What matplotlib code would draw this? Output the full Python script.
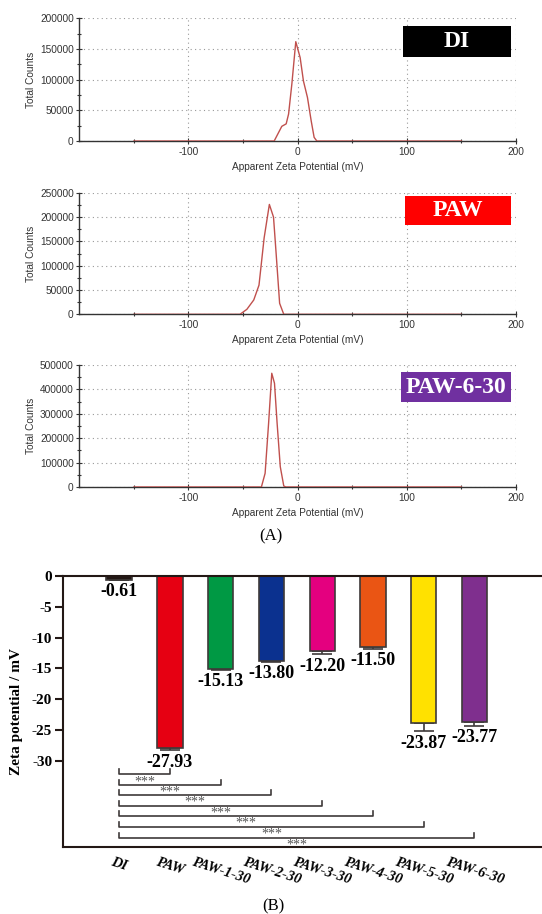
import numpy as np
import matplotlib
matplotlib.use("Agg")
import matplotlib.pyplot as plt
from matplotlib.patches import Rectangle
from matplotlib.ticker import MultipleLocator, FixedLocator

plt.rcParams['axes.unicode_minus'] = False

# --- (A) zeta potential distributions ---
di_x = [-150, -21.5, -14.5, -10.5, -8.3, -5.3, -1.7, 2.3, 5.3, 9.0, 12.4, 15.1, 17.6, 150]
di_y = [0, 0, 24000, 28000, 44000, 93000, 162000, 136000, 98000, 71000, 33000, 6000, 0, 0]

paw_x = [-150, -52.8, -46.5, -40.2, -35.4, -30.7, -25.9, -22.1, -19.7, -16.5, -12.7, 150]
paw_y = [0, 0, 10300, 29500, 60000, 157000, 226000, 200000, 125000, 22600, 0, 0]

p630_x = [-150, -33.2, -29.8, -26.6, -23.7, -21.2, -18.8, -15.9, -12.7, -10.8, 150]
p630_y = [0, 0, 56000, 261000, 466000, 425000, 261000, 83000, 4000, 0, 0]

dist_names = ["DI", "PAW", "PAW-6-30"]
dist_colors = ["#000000", "#ff0000", "#7030a0"]
dist_ymax = [200000, 250000, 500000]
dist_ystep = [50000, 50000, 100000]

# --- (B) mean zeta potential ---
groups = ["DI", "PAW", "PAW-1-30", "PAW-2-30", "PAW-3-30", "PAW-4-30", "PAW-5-30", "PAW-6-30"]
zeta = [-0.61, -27.93, -15.13, -13.80, -12.20, -11.50, -23.87, -23.77]
zeta_err = [0.0, 0.37, 0.1, 0.1, 0.53, 0.3, 1.33, 0.57]
bar_colors = ["#231815", "#e60012", "#009944", "#0b318f", "#e4007f", "#ea5514", "#ffe100", "#7f2f8e"]
bracket_levels = [-32.2, -33.9, -35.6, -37.3, -39.0, -40.8, -42.6]

fig = plt.figure(figsize=(5.42, 9.14), dpi=100)

axes_pos = [[0.1463, 0.8457, 0.8057, 0.1342],
            [0.1463, 0.6561, 0.8057, 0.1330],
            [0.1463, 0.4672, 0.8057, 0.1335]]
box_pos = [(0.742, 0.687, 0.246, 0.250),
           (0.745, 0.734, 0.243, 0.241),
           (0.737, 0.694, 0.251, 0.246)]
curves = [(di_x, di_y), (paw_x, paw_y), (p630_x, p630_y)]

sans = ["Liberation Sans", "DejaVu Sans"]
serif = ["Liberation Serif", "DejaVu Serif"]

for k in range(3):
    ax = fig.add_axes(axes_pos[k])
    cx, cy = curves[k]
    ax.plot(cx, cy, color="#c0504d", lw=1.0, zorder=3)
    ax.set_xlim(-200, 200)
    ax.set_ylim(0, dist_ymax[k])
    ax.xaxis.set_major_locator(FixedLocator([-100, 0, 100, 200]))
    ax.xaxis.set_minor_locator(FixedLocator([-150, -50, 50, 150]))
    ax.yaxis.set_major_locator(MultipleLocator(dist_ystep[k]))
    ax.yaxis.set_minor_locator(MultipleLocator(dist_ystep[k] / 2))
    for s in ["top", "right"]:
        ax.spines[s].set_visible(False)
    for s in ["left", "bottom"]:
        ax.spines[s].set_color("#333333")
        ax.spines[s].set_linewidth(1.0)
    ax.tick_params(which="both", direction="inout", color="#333333", width=0.8)
    ax.tick_params(which="major", length=4, labelsize=7.3, labelcolor="#333333", pad=2)
    ax.tick_params(which="minor", length=3)
    ax.grid(True, which="major", color="#999999", linestyle=(0, (1, 3)), lw=0.8)
    for lab in ax.get_xticklabels() + ax.get_yticklabels():
        lab.set_family(sans)
    ax.set_ylabel("Total Counts", fontsize=7.3, family=sans, color="#333333", labelpad=3)
    ax.set_xlabel("Apparent Zeta Potential (mV)", fontsize=7.3, family=sans,
                  color="#333333", labelpad=4)
    bx, by, bw, bh = box_pos[k]
    ax.add_patch(Rectangle((bx, by), bw, bh, transform=ax.transAxes,
                           facecolor=dist_colors[k], edgecolor="none", zorder=5, clip_on=False))
    ax.text(bx + bw / 2, by + bh / 2, dist_names[k], transform=ax.transAxes,
            ha="center", va="center", color="white", fontsize=17, fontweight="bold",
            family=serif, zorder=6)

fig.text(0.5, 1 - 536 / 914, "(A)", ha="center", va="center", fontsize=12, family=serif)

# --- bar chart ---
axb = fig.add_axes([0.1168, 0.0736, 0.8832, 0.2962])
xpos = np.arange(len(groups))
axb.errorbar(xpos, zeta, yerr=[zeta_err, [0] * len(zeta)], fmt="none",
             ecolor="#3e3a39", elinewidth=1.2, capsize=7, capthick=1.2, zorder=1)
axb.bar(xpos, zeta, width=0.5, color=bar_colors, edgecolor="#3e3a39", linewidth=1.2, zorder=2)

for i in range(len(groups)):
    axb.text(xpos[i], zeta[i] - zeta_err[i] - 0.6, f"{zeta[i]:.2f}", ha="center", va="top",
             fontsize=13, fontweight="bold", family=serif)

for j, lvl in enumerate(bracket_levels):
    end = xpos[j + 1]
    axb.plot([xpos[0], xpos[0], end, end], [lvl + 0.8, lvl, lvl, lvl + 0.8],
             color="#3e3a39", lw=1.2, zorder=3)
    axb.text((xpos[0] + end) / 2, lvl - 0.15, "***", ha="center", va="top",
             fontsize=10, color="#555555", family=serif)

axb.set_xlim(-1.1, 8.33)
axb.set_ylim(-44, 0)
axb.set_yticks([0, -5, -10, -15, -20, -25, -30])
axb.set_xticks(xpos)
axb.set_xticklabels(groups, rotation=-18, ha="center", va="top", fontsize=10.5,
                    fontweight="bold", fontstyle="italic", family=serif)
for lab in axb.get_yticklabels():
    lab.set_family(serif)
    lab.set_fontweight("bold")
    lab.set_fontsize(11)
axb.spines["right"].set_visible(False)
for s in ["top", "left", "bottom"]:
    axb.spines[s].set_linewidth(1.5)
    axb.spines[s].set_color("#231815")
axb.tick_params(axis="x", length=0, pad=6)
axb.tick_params(axis="y", direction="out", length=6, width=1.5, color="#231815", pad=2)
axb.set_ylabel("Zeta potential / mV", fontsize=11, fontweight="bold", family=serif, labelpad=6)
axb.yaxis.set_label_coords(-0.085, 0.5)

fig.text(0.505, 1 - 906 / 914, "(B)", ha="center", va="center", fontsize=12, family=serif)

fig.savefig("out.png", dpi=100)
